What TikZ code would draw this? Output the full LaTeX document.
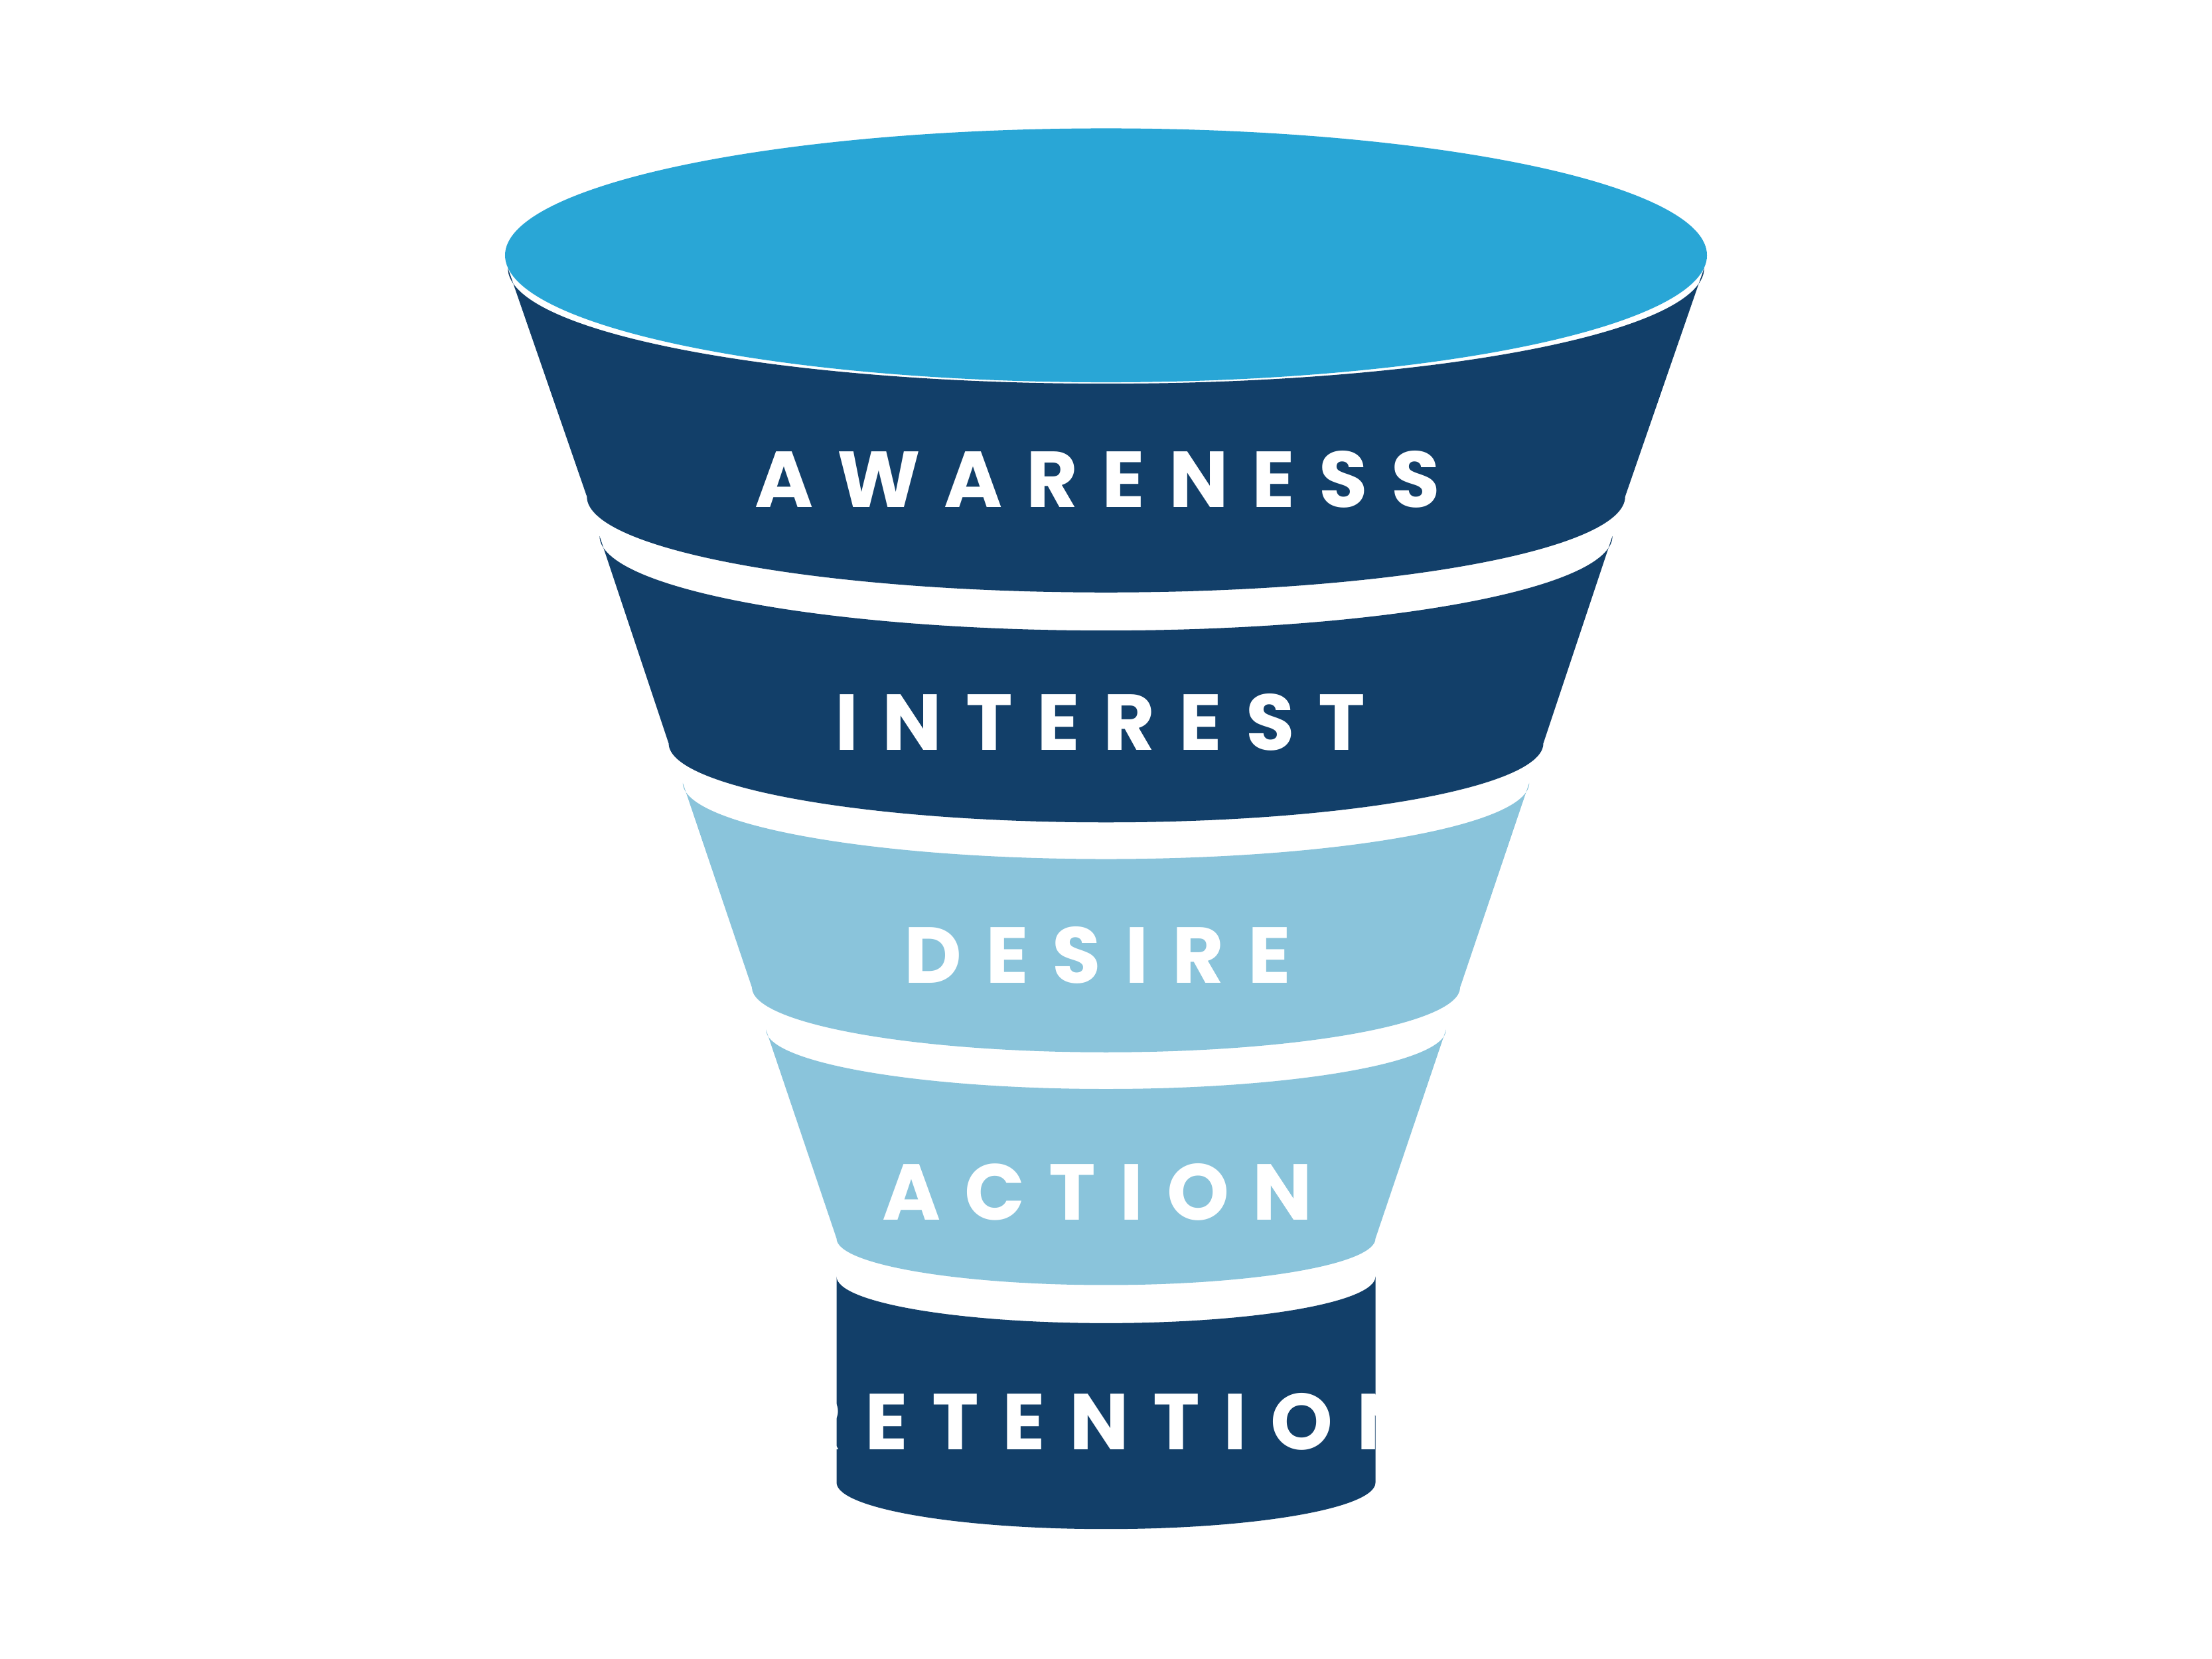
\documentclass[tikz,border=0pt]{standalone}
\usepackage{fontspec}
\newfontfamily\funnelfont{Poppins}[LetterSpace=30]
\definecolor{topblue}{HTML}{29A6D6}
\definecolor{darkblue}{HTML}{123F69}
\definecolor{lightblue}{HTML}{8AC4DB}
\begin{document}
\begin{tikzpicture}[x=0.02126cm, y=0.02126cm,
  label/.style={text=white, font=\funnelfont\bfseries\fontsize{34}{34}\selectfont}]

\useasboundingbox (0,0) rectangle (1568,-1176);

% top rim
\fill[topblue] (784,-181) ellipse[x radius=426, y radius=90];

% bands
\fill[darkblue] (360,-190) arc[start angle=180, end angle=360, x radius=424, y radius=82]
  -- (1152,-352) arc[start angle=0, end angle=-180, x radius=368, y radius=68] -- cycle;
\fill[darkblue] (425,-380) arc[start angle=180, end angle=360, x radius=359, y radius=67]
  -- (1094,-527) arc[start angle=0, end angle=-180, x radius=310, y radius=56] -- cycle;
\fill[lightblue] (484,-555) arc[start angle=180, end angle=360, x radius=300, y radius=54]
  -- (1035,-700) arc[start angle=0, end angle=-180, x radius=251, y radius=46] -- cycle;
\fill[lightblue] (543,-730) arc[start angle=180, end angle=360, x radius=241, y radius=42]
  -- (975,-878) arc[start angle=0, end angle=-180, x radius=191, y radius=33] -- cycle;
\fill[darkblue] (593,-905) arc[start angle=180, end angle=360, x radius=191, y radius=33]
  -- (975,-1051) arc[start angle=0, end angle=-180, x radius=191, y radius=33] -- cycle;

% labels
\node[label] (awareness) at (778,-340) {AWARENESS};
\node[label] (interest) at (780,-512) {INTEREST};
\node[label] (desire) at (778,-677) {DESIRE};
\node[label] (action) at (778,-845) {ACTION};
\node[label] (retention) at (782,-1008) {RETENTION};

\end{tikzpicture}
\end{document}
